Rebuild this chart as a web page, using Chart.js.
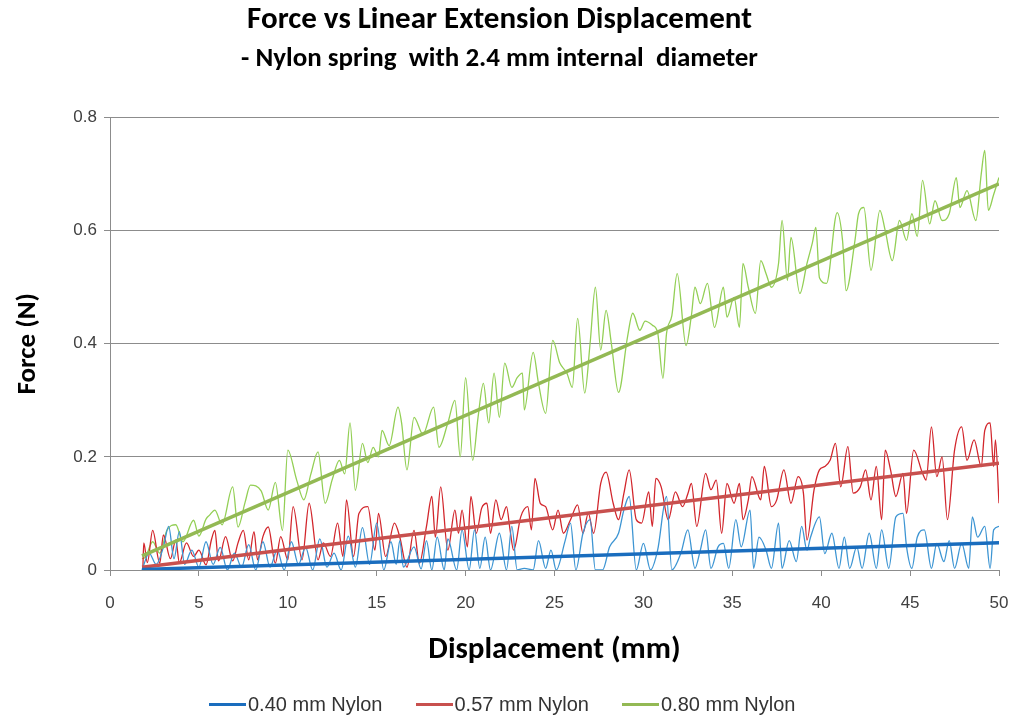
<!DOCTYPE html>
<html>
<head>
<meta charset="utf-8">
<script src="https://cdn.jsdelivr.net/npm/chart.js@4.4.1/dist/chart.umd.min.js"></script>
<style>
  html, body { margin: 0; padding: 0; background: #fff; }
  #wrap { position: relative; width: 1016px; height: 717px; }
  #legend { position: absolute; left: 209px; top: 692px; height: 24px; display: flex; align-items: center; gap: 33px;
            font-family: "Liberation Sans", Arial, sans-serif; font-size: 20px; color: #333; }
  .item { display: flex; align-items: center; }
  .swatch { width: 37px; height: 3px; margin-right: 2px; }
</style>
</head>
<body>
<div id="wrap">
  <canvas id="c" width="1016" height="717"></canvas>
  <div id="legend"></div>
</div>
<script>
// ---------- data ----------
const seriesLabels = ['0.40 mm Nylon', '0.57 mm Nylon', '0.80 mm Nylon'];
const xTickLabels = ['0','5','10','15','20','25','30','35','40','45','50'];
const yTickLabels = ['0','0.2','0.4','0.6','0.8'];

const blueX = [1.8,2.2,2.6,3.0,3.3,3.6,3.9,4.2,4.6,5.0,5.4,5.8,6.2,6.6,7.0,7.4,7.8,8.2,8.6,9.0,9.4,9.8,10.2,10.6,11.0,11.4,11.8,12.2,12.6,13.0,13.4,13.8,14.2,14.6,15.0,15.4,15.8,16.1,16.3,16.5,17.1,17.5,17.8,18.1,18.4,18.8,19.0,19.5,19.8,20.2,20.5,20.8,21.1,21.4,21.9,22.3,22.6,22.9,23.3,23.8,24.1,24.5,24.8,25.1,25.6,25.9,26.2,26.6,27.0,27.3,27.7,28.1,28.6,28.9,29.2,29.6,30.0,30.4,30.8,31.3,31.6,32.1,32.5,32.9,33.2,33.5,33.8,34.2,34.5,34.8,35.2,35.5,36.0,36.2,36.5,36.9,37.2,37.6,37.8,38.2,38.6,38.9,39.2,39.4,39.9,40.2,40.6,41.0,41.3,41.6,42.0,42.3,42.7,43.1,43.4,43.8,44.2,44.6,44.8,45.1,45.4,45.8,46.2,46.5,46.9,47.2,47.5,47.9,48.3,48.5,48.8,49.2,49.5,49.7,50.0];
const blueY = [0.0,0.03,0.01,0.04,0.077,0.02,0.068,0.01,0.035,0.005,0.05,0.01,0.04,0.0,0.03,0.005,0.045,0.0,0.05,0.005,0.035,0.0,0.05,0.01,0.04,0.0,0.055,0.005,0.03,0.0,0.06,0.005,0.075,0.01,0.083,0.0,0.05,0.01,0.052,0.005,0.041,0.002,0.052,0.0,0.058,0.0,0.055,0.0,0.071,0.0,0.071,0.003,0.058,0.0,0.065,0.0,0.077,0.0,0.003,0.0,0.052,0.003,0.035,0.0,0.052,0.083,0.0,0.065,0.089,0.0,0.0,0.041,0.065,0.106,0.13,0.0,0.047,0.0,0.035,0.13,0.0,0.029,0.071,0.003,0.035,0.071,0.003,0.041,0.047,0.003,0.089,0.041,0.106,0.003,0.058,0.035,0.003,0.083,0.003,0.052,0.015,0.077,0.035,0.058,0.094,0.029,0.065,0.003,0.058,0.003,0.041,0.003,0.065,0.003,0.071,0.003,0.094,0.10,0.041,0.003,0.058,0.071,0.003,0.047,0.015,0.052,0.003,0.047,0.003,0.094,0.058,0.077,0.003,0.071,0.077];

const redX = [1.85,1.9,2.1,2.4,2.8,3.0,3.4,3.7,3.9,4.3,4.7,5.0,5.4,5.7,5.9,6.1,6.5,6.9,7.2,7.5,7.8,8.1,8.3,8.6,8.9,9.3,9.6,10.0,10.3,10.8,11.2,11.7,12.0,12.4,12.8,13.1,13.3,13.7,14.0,14.5,14.9,15.1,15.5,16.0,16.3,16.7,17.1,17.4,17.8,18.1,18.3,18.6,19.0,19.4,19.6,19.8,20.1,20.3,20.6,20.9,21.2,21.4,21.7,22.0,22.3,22.5,22.7,23.1,23.5,23.7,23.9,24.2,24.5,24.9,25.2,25.5,25.9,26.3,26.6,26.9,27.2,27.6,27.9,28.3,28.6,28.9,29.2,29.6,29.9,30.3,30.5,30.7,31.0,31.4,31.8,32.2,32.5,32.7,33.0,33.5,33.8,34.1,34.4,34.7,35.1,35.4,35.6,35.9,36.1,36.6,36.8,37.2,37.5,37.9,38.3,38.7,39.0,39.2,39.6,39.9,40.2,40.5,40.8,41.1,41.5,41.8,42.2,42.5,42.8,43.1,43.4,43.6,43.9,44.2,44.6,44.8,45.2,45.7,45.9,46.2,46.5,46.8,47.1,47.5,47.9,48.2,48.6,49.0,49.2,49.5,49.7,49.8,50.0];
const redY = [0.005,0.048,0.013,0.07,0.012,0.062,0.02,0.053,0.013,0.048,0.024,0.035,0.009,0.053,0.07,0.016,0.059,0.016,0.048,0.07,0.018,0.068,0.018,0.059,0.076,0.012,0.059,0.018,0.112,0.018,0.118,0.018,0.048,0.024,0.083,0.024,0.124,0.024,0.10,0.112,0.035,0.10,0.024,0.083,0.058,0.005,0.07,0.012,0.077,0.13,0.058,0.147,0.035,0.106,0.065,0.106,0.041,0.13,0.065,0.109,0.118,0.065,0.124,0.089,0.112,0.071,0.035,0.094,0.112,0.071,0.162,0.118,0.112,0.071,0.106,0.065,0.089,0.115,0.065,0.10,0.065,0.153,0.173,0.118,0.089,0.135,0.177,0.089,0.083,0.138,0.077,0.162,0.147,0.089,0.138,0.112,0.135,0.153,0.077,0.171,0.142,0.159,0.065,0.153,0.118,0.153,0.089,0.124,0.165,0.124,0.183,0.112,0.124,0.177,0.118,0.165,0.136,0.053,0.142,0.177,0.183,0.194,0.224,0.147,0.218,0.136,0.147,0.177,0.124,0.183,0.089,0.212,0.177,0.13,0.171,0.10,0.212,0.171,0.159,0.253,0.165,0.20,0.089,0.212,0.253,0.194,0.23,0.183,0.247,0.26,0.183,0.23,0.118];

const greenX = [1.8,2.0,2.4,2.8,3.2,3.7,4.1,4.7,5.0,5.4,5.6,5.9,6.3,6.9,7.2,7.6,7.9,8.5,8.9,9.3,9.7,10.0,10.5,10.9,11.3,11.7,12.1,12.5,12.9,13.2,13.5,13.8,14.2,14.5,14.8,15.1,15.3,15.7,16.2,16.4,16.7,17.1,17.6,18.2,18.5,19.0,19.4,19.7,20.0,20.4,20.7,21.0,21.3,21.6,21.9,22.2,22.6,22.9,23.2,23.3,23.8,24.1,24.5,24.9,25.3,25.7,26.0,26.3,26.7,27.0,27.3,27.6,27.9,28.2,28.6,29.1,29.4,29.8,30.1,30.5,30.8,31.1,31.3,31.6,31.9,32.4,32.7,32.9,33.2,33.6,34.0,34.5,34.7,35.1,35.4,35.6,35.9,36.3,36.6,36.9,37.2,37.6,37.8,38.1,38.3,38.8,39.2,39.5,39.7,39.9,40.3,40.9,41.2,41.4,41.9,42.1,42.4,42.8,43.3,43.6,44.0,44.4,44.8,45.1,45.4,45.7,46.1,46.4,46.8,47.2,47.6,47.8,48.2,48.7,49.0,49.2,49.4,49.7,50.0];
const greenY = [0.02,0.023,0.05,0.03,0.07,0.08,0.05,0.088,0.06,0.09,0.097,0.106,0.08,0.147,0.076,0.12,0.15,0.14,0.106,0.155,0.07,0.212,0.159,0.124,0.17,0.209,0.118,0.16,0.194,0.17,0.26,0.141,0.224,0.19,0.217,0.2,0.247,0.22,0.288,0.26,0.177,0.27,0.24,0.288,0.217,0.26,0.30,0.2,0.34,0.194,0.27,0.33,0.26,0.348,0.27,0.366,0.323,0.34,0.348,0.283,0.385,0.33,0.277,0.406,0.366,0.348,0.323,0.445,0.313,0.40,0.5,0.389,0.459,0.40,0.314,0.411,0.454,0.424,0.44,0.433,0.42,0.339,0.418,0.45,0.524,0.397,0.45,0.5,0.471,0.507,0.429,0.5,0.447,0.482,0.429,0.542,0.5,0.454,0.547,0.524,0.5,0.542,0.618,0.512,0.588,0.489,0.542,0.578,0.606,0.517,0.507,0.632,0.583,0.494,0.583,0.63,0.641,0.53,0.636,0.6,0.547,0.618,0.583,0.63,0.59,0.689,0.612,0.653,0.618,0.63,0.694,0.641,0.671,0.618,0.70,0.742,0.636,0.664,0.694];

// linear trend lines (endpoints)
const trendX = [1.8, 50];
const blueTrendY = [0.001, 0.048];
const redTrendY = [0.005, 0.189];
const greenTrendY = [0.025, 0.683];

const dataColors = ['#3D95D3', '#D2262C', '#93CF55'];
const trendColors = ['#1A6DBE', '#C8504E', '#93B954'];

function pts(xs, ys) { return xs.map((x, i) => ({ x: x, y: ys[i] })); }

const gridColor = '#8C8C8C';
const tickFont = { family: '"Liberation Sans Narrow", "Liberation Sans", Arial, sans-serif', size: 17 };
const boldFont = (s) => ({ family: 'Carlito, Lato, "Open Sans", sans-serif', size: s, weight: 'bold' });

const ds = [];
[[blueX, blueY, blueTrendY], [redX, redY, redTrendY], [greenX, greenY, greenTrendY]].forEach((s, i) => {
  ds.push({ label: seriesLabels[i] + ' trend', data: pts(trendX, s[2]), borderColor: trendColors[i], borderWidth: 3.5,
            pointRadius: 0, tension: 0, order: 0 });
});
[[blueX, blueY], [redX, redY], [greenX, greenY]].forEach((s, i) => {
  ds.push({ label: seriesLabels[i], data: pts(s[0], s[1]), borderColor: dataColors[i], borderWidth: 1.3,
            pointRadius: 0, tension: 0.35, cubicInterpolationMode: 'monotone', order: 1 });
});

new Chart(document.getElementById('c'), {
  type: 'line',
  data: { datasets: ds },
  options: {
    responsive: false,
    animation: false,
    layout: { padding: { left: 0, right: 17, top: 0, bottom: 0 } },
    plugins: {
      legend: { display: false },
      tooltip: { enabled: false },
      title: { display: true, text: 'Force vs Linear Extension Displacement', color: '#000', font: boldFont(31), padding: { top: 2, bottom: 1 } },
      subtitle: { display: true, text: '- Nylon spring  with 2.4 mm internal  diameter', color: '#000', font: boldFont(27), padding: { top: 3, bottom: 42 } }
    },
    scales: {
      x: {
        type: 'linear', min: 0, max: 50,
        afterFit: (s) => { s.height = 147; s.paddingLeft = 0; s.paddingRight = 0; },
        afterBuildTicks: (s) => { s.ticks = xTickLabels.map(v => ({ value: Number(v) })); },
        ticks: { color: '#404040', font: tickFont, padding: 17, maxRotation: 0, callback: (v) => String(v) },
        grid: { drawOnChartArea: false, drawTicks: true, tickLength: 6, color: gridColor },
        border: { color: gridColor },
        title: { display: true, text: 'Displacement (mm)', color: '#000', font: boldFont(31), padding: { top: 0, bottom: 48 } }
      },
      y: {
        min: 0, max: 0.8,
        afterFit: (s) => { s.width = 110; s.paddingTop = 0; s.paddingBottom = 0; },
        afterBuildTicks: (s) => { s.ticks = yTickLabels.map(v => ({ value: Number(v) })); },
        ticks: { color: '#404040', font: tickFont, padding: 7, callback: (v) => yTickLabels[Math.round(v / 0.2)] },
        grid: { color: gridColor, tickLength: 6 },
        border: { color: gridColor },
        title: { display: true, text: 'Force (N)', color: '#000', font: boldFont(27), padding: { top: 12, bottom: 0 } }
      }
    }
  }
});

// HTML legend built from the series labels
const lg = document.getElementById('legend');
seriesLabels.forEach((t, i) => {
  const it = document.createElement('div'); it.className = 'item';
  const sw = document.createElement('span'); sw.className = 'swatch'; sw.style.background = trendColors[i];
  const tx = document.createElement('span'); tx.textContent = t;
  it.appendChild(sw); it.appendChild(tx); lg.appendChild(it);
});
</script>
</body>
</html>
